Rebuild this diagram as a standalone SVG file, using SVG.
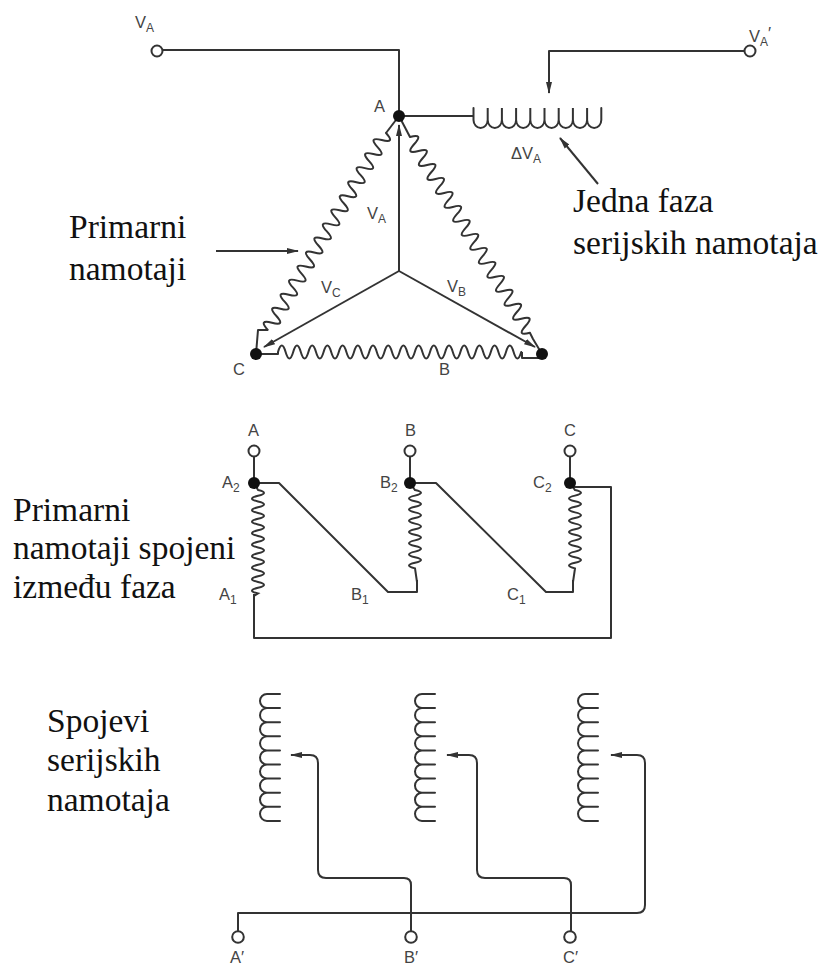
<svg xmlns="http://www.w3.org/2000/svg" width="820" height="967" viewBox="0 0 820 967">
<style>
.w{fill:none;stroke:#333;stroke-width:2;stroke-linejoin:round}
.c{fill:none;stroke:#333;stroke-width:2;stroke-linecap:round}
.o{fill:#fff;stroke:#333;stroke-width:2}
.d{fill:#111}
.l{font-family:"Liberation Sans",Arial,sans-serif;font-size:16.500px;fill:#444}
.s{font-size:12px}
.t{font-family:"Liberation Serif","Times New Roman",serif;font-size:33.500px;fill:#111}
</style>
<defs>
<marker id="a" markerWidth="12" markerHeight="8" refX="11" refY="4" orient="auto" markerUnits="userSpaceOnUse"><path d="M0 1L12 4L0 7z" fill="#333"/></marker>
</defs>
<rect width="820" height="967" fill="#fff"/>
<g id="connectors">
<path class="w" d="M163 50H399V116"/>
<path class="w" d="M399 116H473"/>
<path class="w" d="M745 51H549V93" marker-end="url(#a)"/>
<path class="w" d="M399 271V125" marker-end="url(#a)"/>
<path class="w" d="M399 271L264 347" marker-end="url(#a)"/>
<path class="w" d="M399 271L535 347" marker-end="url(#a)"/>
<path class="w" d="M598 184L560 138" marker-end="url(#a)"/>
<path class="w" d="M216 251H298" marker-end="url(#a)"/>
<path class="w" d="M399 116L386 133"/>
<path class="w" d="M268 330L258 330L256 354"/>
<path class="w" d="M399 116L410 137"/>
<path class="w" d="M530 333L533 339L542 354"/>
<path class="w" d="M256 354H278V352"/>
<path class="w" d="M522 352V358H542"/>
<path class="w" d="M254 457V483"/>
<path class="w" d="M410 457V483"/>
<path class="w" d="M570 457V483"/>
<path class="w" d="M254 483H279L388 592H417V580"/>
<path class="w" d="M410 483H436L546 592H573V580"/>
<path class="w" d="M570 487H611V638H254V594"/>
<path class="w" d="M411 931V885Q411 878 404 878H326Q318 878 318 870V763Q318 755 310 755H291" marker-end="url(#a)"/>
<path class="w" d="M571 931V885Q571 878 564 878H485Q477 878 477 870V763Q477 755 469 755H447" marker-end="url(#a)"/>
<path class="w" d="M238 931V913H637Q645 913 645 905V763Q645 755 637 755H611" marker-end="url(#a)"/>
</g>
<g id="coil-series-top"><path class="c" d="M473.500 108V120a7.100 8 0 0 0 14.200 0V108V120a7.100 8 0 0 0 14.200 0V108V120a7.100 8 0 0 0 14.200 0V108V120a7.100 8 0 0 0 14.200 0V108V120a7.100 8 0 0 0 14.200 0V108V120a7.100 8 0 0 0 14.200 0V108V120a7.100 8 0 0 0 14.200 0V108V120a7.100 8 0 0 0 14.200 0V108V120a7.100 8 0 0 0 14.200 0V108"/></g>
<g id="winding-ca" transform="translate(386 133) rotate(121)"><path class="c" d="M0 0q4.100-14 8.200 0t8.200 0q4.100-14 8.200 0t8.200 0q4.100-14 8.200 0t8.200 0q4.100-14 8.200 0t8.200 0q4.100-14 8.200 0t8.200 0q4.100-14 8.200 0t8.200 0q4.100-14 8.200 0t8.200 0q4.100-14 8.200 0t8.200 0q4.100-14 8.200 0t8.200 0q4.100-14 8.200 0t8.200 0q4.100-14 8.200 0t8.200 0q4.100-14 8.200 0t8.200 0q4.100-14 8.200 0t8.200 0q4.100-14 8.200 0t8.200 0"/></g>
<g id="winding-ab" transform="translate(410 137) rotate(58.500)"><path class="c" d="M0 0q4.100-14 8.200 0t8.200 0q4.100-14 8.200 0t8.200 0q4.100-14 8.200 0t8.200 0q4.100-14 8.200 0t8.200 0q4.100-14 8.200 0t8.200 0q4.100-14 8.200 0t8.200 0q4.100-14 8.200 0t8.200 0q4.100-14 8.200 0t8.200 0q4.100-14 8.200 0t8.200 0q4.100-14 8.200 0t8.200 0q4.100-14 8.200 0t8.200 0q4.100-14 8.200 0t8.200 0q4.100-14 8.200 0t8.200 0q4.100-14 8.200 0t8.200 0"/></g>
<g id="winding-bc" transform="translate(278 352)"><path class="c" d="M0 0q3.800-13 7.600 0t7.600 0q3.800-13 7.600 0t7.600 0q3.800-13 7.600 0t7.600 0q3.800-13 7.600 0t7.600 0q3.800-13 7.600 0t7.600 0q3.800-13 7.600 0t7.600 0q3.800-13 7.600 0t7.600 0q3.800-13 7.600 0t7.600 0q3.800-13 7.600 0t7.600 0q3.800-13 7.600 0t7.600 0q3.800-13 7.600 0t7.600 0q3.800-13 7.600 0t7.600 0q3.800-13 7.600 0t7.600 0q3.800-13 7.600 0t7.600 0q3.800-13 7.600 0t7.600 0q3.800-13 7.600 0t7.600 0"/></g>
<g id="winding-a"><path class="c" d="M254 483L258 490q12 2.875 0 5.750t0 5.750q12 2.875 0 5.750t0 5.750q12 2.875 0 5.750t0 5.750q12 2.875 0 5.750t0 5.750q12 2.875 0 5.750t0 5.750q12 2.875 0 5.750t0 5.750q12 2.875 0 5.750t0 5.750q12 2.875 0 5.750t0 5.750q12 2.875 0 5.750t0 5.750L254 596"/></g>
<g id="winding-b"><path class="c" d="M410 483L415 490q12 2.800 0 5.600t0 5.600q12 2.800 0 5.600t0 5.600q12 2.800 0 5.600t0 5.600q12 2.800 0 5.600t0 5.600q12 2.800 0 5.600t0 5.600q12 2.800 0 5.600t0 5.600q12 2.800 0 5.600t0 5.600L417 582"/></g>
<g id="winding-c"><path class="c" d="M570 483L575 490q12 2.800 0 5.600t0 5.600q12 2.800 0 5.600t0 5.600q12 2.800 0 5.600t0 5.600q12 2.800 0 5.600t0 5.600q12 2.800 0 5.600t0 5.600q12 2.800 0 5.600t0 5.600q12 2.800 0 5.600t0 5.600L573 582"/></g>
<g id="coil-s1" transform="translate(280 694)"><path class="c" d="M0 0H-13a7 7.050 0 0 0 0 14.100H0M-13 14.100a7 7.050 0 0 0 0 14.100H0M-13 28.200a7 7.050 0 0 0 0 14.100H0M-13 42.300a7 7.050 0 0 0 0 14.100H0M-13 56.400a7 7.050 0 0 0 0 14.100H0M-13 70.500a7 7.050 0 0 0 0 14.100H0M-13 84.600a7 7.050 0 0 0 0 14.100H0M-13 98.700a7 7.050 0 0 0 0 14.100H0M-13 112.800a7 7.050 0 0 0 0 14.100H0"/></g>
<g id="coil-s2" transform="translate(435 694)"><path class="c" d="M0 0H-13a7 7.050 0 0 0 0 14.100H0M-13 14.100a7 7.050 0 0 0 0 14.100H0M-13 28.200a7 7.050 0 0 0 0 14.100H0M-13 42.300a7 7.050 0 0 0 0 14.100H0M-13 56.400a7 7.050 0 0 0 0 14.100H0M-13 70.500a7 7.050 0 0 0 0 14.100H0M-13 84.600a7 7.050 0 0 0 0 14.100H0M-13 98.700a7 7.050 0 0 0 0 14.100H0M-13 112.800a7 7.050 0 0 0 0 14.100H0"/></g>
<g id="coil-s3" transform="translate(598 694)"><path class="c" d="M0 0H-13a7 7.050 0 0 0 0 14.100H0M-13 14.100a7 7.050 0 0 0 0 14.100H0M-13 28.200a7 7.050 0 0 0 0 14.100H0M-13 42.300a7 7.050 0 0 0 0 14.100H0M-13 56.400a7 7.050 0 0 0 0 14.100H0M-13 70.500a7 7.050 0 0 0 0 14.100H0M-13 84.600a7 7.050 0 0 0 0 14.100H0M-13 98.700a7 7.050 0 0 0 0 14.100H0M-13 112.800a7 7.050 0 0 0 0 14.100H0"/></g>
<g id="terminals">
<circle class="o" cx="157" cy="51" r="5.500"/>
<circle class="o" cx="750" cy="51" r="5.500"/>
<circle class="o" cx="254" cy="451" r="5.500"/>
<circle class="o" cx="410" cy="451" r="5.500"/>
<circle class="o" cx="570" cy="451" r="5.500"/>
<circle class="o" cx="238" cy="937" r="5.800"/>
<circle class="o" cx="411" cy="937" r="5.800"/>
<circle class="o" cx="570" cy="937" r="5.800"/>
<circle class="d" cx="399" cy="116" r="6"/>
<circle class="d" cx="256" cy="354" r="6"/>
<circle class="d" cx="542" cy="354" r="6"/>
<circle class="d" cx="254" cy="483" r="6"/>
<circle class="d" cx="410" cy="483" r="6"/>
<circle class="d" cx="570" cy="483" r="6"/>
</g>
<g id="labels">
<text class="l" x="135" y="28">V<tspan class="s" dy="4">A</tspan></text>
<text class="l" x="749" y="42">V<tspan class="s" dy="4">A</tspan><tspan dy="-7">′</tspan></text>
<text class="l" x="374" y="112">A</text>
<text class="l" x="511" y="159">ΔV<tspan class="s" dy="4">A</tspan></text>
<text class="l" x="367" y="219">V<tspan class="s" dy="4">A</tspan></text>
<text class="l" x="321" y="293">V<tspan class="s" dy="4">C</tspan></text>
<text class="l" x="447" y="292">V<tspan class="s" dy="4">B</tspan></text>
<text class="l" x="233" y="375">C</text>
<text class="l" x="439" y="375">B</text>
<text class="l" x="248" y="436">A</text>
<text class="l" x="405" y="436">B</text>
<text class="l" x="564" y="436">C</text>
<text class="l" x="222" y="488">A<tspan class="s" dy="4">2</tspan></text>
<text class="l" x="380" y="488">B<tspan class="s" dy="4">2</tspan></text>
<text class="l" x="533" y="488">C<tspan class="s" dy="4">2</tspan></text>
<text class="l" x="219" y="600">A<tspan class="s" dy="4">1</tspan></text>
<text class="l" x="351" y="600">B<tspan class="s" dy="4">1</tspan></text>
<text class="l" x="507" y="600">C<tspan class="s" dy="4">1</tspan></text>
<text class="l" x="230" y="963">A′</text>
<text class="l" x="404" y="963">B′</text>
<text class="l" x="563" y="963">C′</text>
<text class="t" x="573" y="212">Jedna faza</text>
<text class="t" x="573" y="254">serijskih namotaja</text>
<text class="t" x="69" y="238">Primarni</text>
<text class="t" x="69" y="280">namotaji</text>
<text class="t" x="13" y="521">Primarni</text>
<text class="t" x="13" y="559">namotaji spojeni</text>
<text class="t" x="13" y="598">između faza</text>
<text class="t" x="47" y="732">Spojevi</text>
<text class="t" x="47" y="771">serijskih</text>
<text class="t" x="47" y="811">namotaja</text>
</g>
</svg>
